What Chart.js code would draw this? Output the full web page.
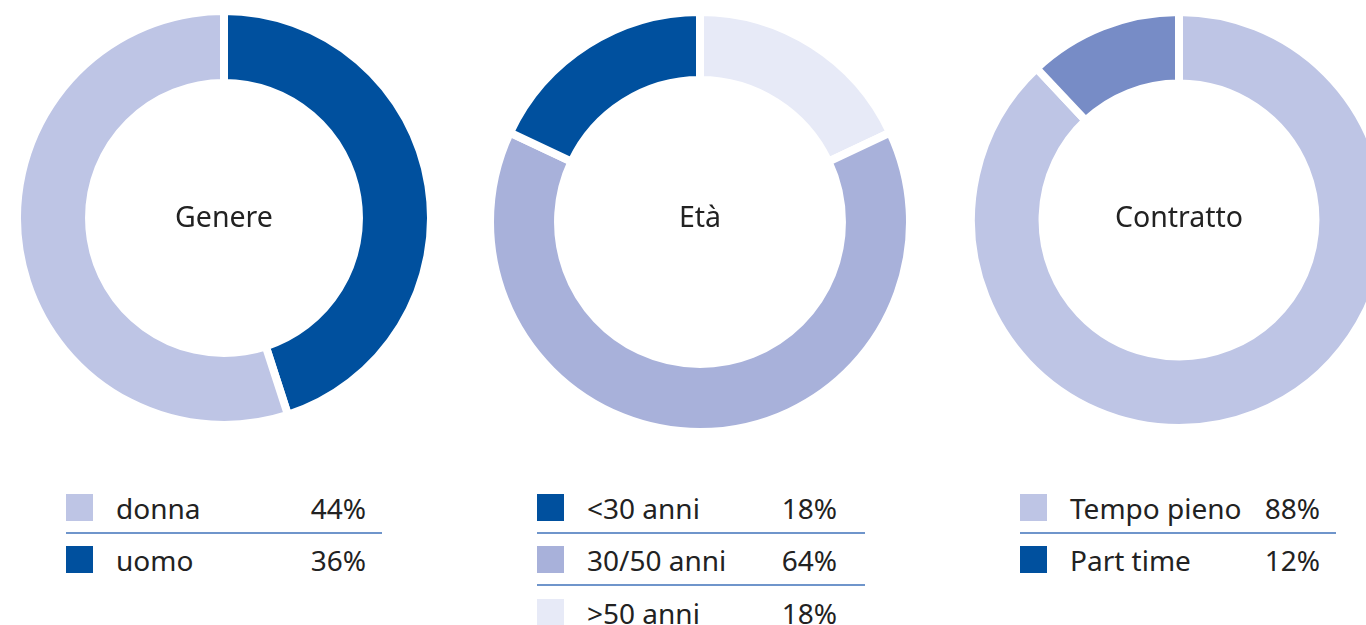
<!DOCTYPE html>
<html>
<head>
<meta charset="utf-8">
<script src="https://cdn.jsdelivr.net/npm/chart.js@4.4.1/dist/chart.umd.min.js"></script>
<style>
  html, body { margin: 0; padding: 0; width: 1366px; height: 625px; overflow: hidden; background: #fff; }
  canvas.ring { position: absolute; }
  .legend { position: absolute; top: 494px; width: 300px; font-family: "Noto Sans", sans-serif; font-size: 28px; color: #222; }
  .legend .row { position: relative; height: 52.3px; }
  .legend .sw { position: absolute; left: 0; top: 0; width: 27px; height: 27px; }
  .legend .lbl { position: absolute; left: 50px; top: 1px; line-height: 27px; white-space: nowrap; }
  .legend .pct { position: absolute; right: 0; top: 1px; line-height: 27px; text-align: right; }
  .legend .rule { position: absolute; left: 0; top: 38px; height: 1.5px; background: #6f95cb; }
</style>
</head>
<body>
<canvas id="chart_genere" class="ring" width="422" height="422" style="left:13px;top:7px"></canvas>
<canvas id="chart_eta" class="ring" width="428" height="428" style="left:486px;top:8px"></canvas>
<canvas id="chart_contratto" class="ring" width="424" height="424" style="left:967px;top:8px"></canvas>
<div id="legend_genere" class="legend" style="left:66px"></div>
<div id="legend_eta" class="legend" style="left:537px"></div>
<div id="legend_contratto" class="legend" style="left:1020px"></div>
<script>
const genereLabels = ['donna', 'uomo'];
const genereValues = [44, 36];
const etaLabels = ['<30 anni', '30/50 anni', '>50 anni'];
const etaValues = [18, 64, 18];
const contrattoLabels = ['Tempo pieno', 'Part time'];
const contrattoValues = [88, 12];

const darkBlue = '#00509e';
const genereColors = ['#bec5e5', darkBlue];
const etaColors = [darkBlue, '#a8b1da', '#e7eaf7'];
const contrattoColors = ['#bec5e5', '#778cc6'];
const contrattoLegendColors = ['#bec5e5', darkBlue];

const centerTitle = {
  id: 'centerTitle',
  afterDraw: (chart, args, options) => {
    const ctx = chart.ctx;
    const area = chart.chartArea;
    ctx.save();
    ctx.font = '28.5px "Noto Sans"';
    ctx.fillStyle = '#222';
    ctx.textAlign = 'center';
    ctx.textBaseline = 'alphabetic';
    ctx.fillText(options.text, (area.left + area.right) / 2, (area.top + area.bottom) / 2 + options.dy);
    ctx.restore();
  }
};

// reversed = chart draws the slices clockwise in the opposite order of the legend
function makeRing(id, title, dy, labels, values, colors, cutout, reversed) {
  const l = reversed ? labels.slice().reverse() : labels;
  const v = reversed ? values.slice().reverse() : values;
  const c = reversed ? colors.slice().reverse() : colors;
  return new Chart(document.getElementById(id), {
    type: 'doughnut',
    data: {
      labels: l,
      datasets: [{
        data: v,
        backgroundColor: c,
        borderColor: '#ffffff',
        borderWidth: 8,
        hoverBorderWidth: 8,
        hoverOffset: 0,
        offset: 0
      }]
    },
    options: {
      responsive: false,
      animation: false,
      cutout: cutout,
      layout: { padding: 0 },
      events: [],
      plugins: {
        legend: { display: false },
        tooltip: { enabled: false },
        centerTitle: { text: title, dy: dy }
      }
    },
    plugins: [centerTitle]
  });
}

function makeLegend(id, labels, values, colors, ruleWidth) {
  const box = document.getElementById(id);
  labels.forEach((label, i) => {
    const row = document.createElement('div');
    row.className = 'row';
    const sw = document.createElement('div');
    sw.className = 'sw';
    sw.style.background = colors[i];
    const lbl = document.createElement('span');
    lbl.className = 'lbl';
    lbl.textContent = label;
    const pct = document.createElement('span');
    pct.className = 'pct';
    pct.textContent = values[i] + '%';
    row.appendChild(sw);
    row.appendChild(lbl);
    row.appendChild(pct);
    if (i < labels.length - 1) {
      const rule = document.createElement('div');
      rule.className = 'rule';
      rule.style.width = ruleWidth + 'px';
      row.appendChild(rule);
    }
    box.appendChild(row);
  });
}

makeRing('chart_genere', 'Genere', 9, genereLabels, genereValues, genereColors, '65.2%', true);
makeRing('chart_eta', 'Età', 5, etaLabels, etaValues, etaColors, '67.6%', true);
makeRing('chart_contratto', 'Contratto', 7, contrattoLabels, contrattoValues, contrattoColors, '65.6%', false);

makeLegend('legend_genere', genereLabels, genereValues, genereColors, 316);
makeLegend('legend_eta', etaLabels, etaValues, etaColors, 328);
makeLegend('legend_contratto', contrattoLabels, contrattoValues, contrattoLegendColors, 316);
</script>
</body>
</html>
